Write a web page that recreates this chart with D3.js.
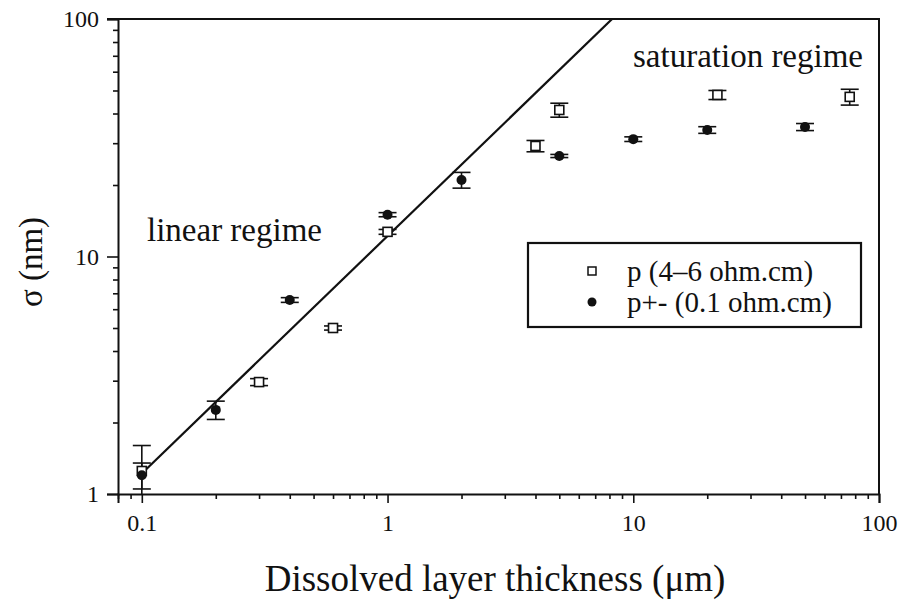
<!DOCTYPE html>
<html>
<head>
<meta charset="utf-8">
<script src="https://cdn.jsdelivr.net/npm/d3@7"></script>
<style>
  html, body { margin: 0; padding: 0; background: #fff; }
  svg text { font-family: "Liberation Serif", "DejaVu Serif", serif; fill: #111; }
</style>
</head>
<body>
<svg id="chart" width="904" height="600"></svg>
<script>
// Roughness sigma vs dissolved layer thickness, two substrate dopings
const pThickness   = [0.1, 0.3, 0.6, 1.0, 4.0, 5.0, 22, 76];
const pSigma       = [1.25, 2.96, 5.0, 12.7, 29.2, 41.4, 47.9, 47.0];
const pErr         = [0.35, 0.1, 0.1, 0.3, 1.6, 2.8, 2.1, 3.6];

const ppThickness  = [0.1, 0.2, 0.4, 1.0, 2.0, 5.0, 10, 20, 50];
const ppSigma      = [1.2, 2.26, 6.56, 15.0, 21.0, 26.5, 31.2, 34.1, 35.1];
const ppErr        = [0.15, 0.2, 0.15, 0.3, 1.6, 0.4, 0.7, 1.1, 1.2];

// linear fit sigma ~ thickness (end points)
const fitThickness = [0.1, 8.2];
const fitSigma     = [1.22, 100];

const xMajorTicks = [0.1, 1, 10, 100];
const xTickLabels = ["0.1", "1", "10", "100"];
const yMajorTicks = [1, 10, 100];
const yTickLabels = ["1", "10", "100"];

const legendLabels = ["p (4\u20136 ohm.cm)", "p+- (0.1 ohm.cm)"];

const svg = d3.select("#chart");
const L = 118, R = 879, T = 19, B = 494;

const x = d3.scaleLog().domain([0.08, 100]).range([L, R]);
const y = d3.scaleLog().domain([1, 100]).range([B, T]);

// minor tick positions
const xMinor = [];
[0.01, 0.1, 1, 10].forEach(d => { for (let k = 2; k <= 9; k++) { const v = d * k; if (v >= 0.08 && v < 100) xMinor.push(v); } });
const yMinor = [];
[1, 10].forEach(d => { for (let k = 2; k <= 9; k++) yMinor.push(d * k); });

// x axis
const gx = svg.append("g").attr("transform", `translate(0,${B})`);
gx.call(d3.axisBottom(x).tickValues(xMinor).tickSize(5).tickFormat(""));
gx.call(g => g.select(".domain").remove());
const gxMaj = svg.append("g").attr("transform", `translate(0,${B})`);
gxMaj.call(d3.axisBottom(x).tickValues(xMajorTicks).tickSize(9).tickPadding(11)
  .tickFormat((d, i) => xTickLabels[i]));
gxMaj.selectAll("text").attr("font-size", 24).style("font-family", "Liberation Serif").attr("fill", "#111");

// y axis
const gy = svg.append("g").attr("transform", `translate(${L},0)`);
gy.call(d3.axisLeft(y).tickValues(yMinor).tickSize(5).tickFormat(""));
gy.call(g => g.select(".domain").remove());
const gyMaj = svg.append("g").attr("transform", `translate(${L},0)`);
gyMaj.call(d3.axisLeft(y).tickValues(yMajorTicks).tickSize(11).tickPadding(8)
  .tickFormat((d, i) => yTickLabels[i]));
gyMaj.selectAll("text").attr("font-size", 24).style("font-family", "Liberation Serif").attr("fill", "#111");

svg.selectAll(".domain").attr("stroke", "#111").attr("stroke-width", 2);
svg.selectAll(".tick line").attr("stroke", "#111").attr("stroke-width", 1.6);

// frame: top and right edges
svg.append("path")
  .attr("d", `M${L - 11},${T}H${R}V${B}`)
  .attr("fill", "none").attr("stroke", "#111").attr("stroke-width", 2);

// clip region for the fit line
svg.append("clipPath").attr("id", "plotClip")
  .append("rect").attr("x", L).attr("y", T).attr("width", R - L).attr("height", B - T);

const fitPts = fitThickness.map((t, i) => [x(t), y(fitSigma[i])]);
svg.append("path")
  .attr("clip-path", "url(#plotClip)")
  .attr("d", d3.line()(fitPts))
  .attr("fill", "none").attr("stroke", "#111").attr("stroke-width", 2.2);

// error bars
function errorBars(ts, ss, es) {
  const g = svg.append("g").attr("stroke", "#111").attr("stroke-width", 1.6).attr("fill", "none");
  ts.forEach((t, i) => {
    const cx = x(t);
    const yTop = y(ss[i] + es[i]);
    const yBot = y(Math.max(ss[i] - es[i], 1));
    g.append("line").attr("x1", cx).attr("x2", cx).attr("y1", yTop).attr("y2", yBot);
    g.append("line").attr("x1", cx - 9).attr("x2", cx + 9).attr("y1", yTop).attr("y2", yTop);
    if (ss[i] - es[i] > 1)
      g.append("line").attr("x1", cx - 9).attr("x2", cx + 9).attr("y1", yBot).attr("y2", yBot);
  });
}
errorBars(pThickness, pSigma, pErr);
errorBars(ppThickness, ppSigma, ppErr);

// open squares: p
svg.append("g").selectAll("rect").data(pThickness).join("rect")
  .attr("x", (d) => x(d) - 4.5)
  .attr("y", (d, i) => y(pSigma[i]) - 4.5)
  .attr("width", 9).attr("height", 9)
  .attr("fill", "#fff").attr("stroke", "#111").attr("stroke-width", 1.6);

// filled circles: p+
svg.append("g").selectAll("circle").data(ppThickness).join("circle")
  .attr("cx", (d) => x(d))
  .attr("cy", (d, i) => y(ppSigma[i]))
  .attr("r", 5)
  .attr("fill", "#111");

// annotations
svg.append("text").attr("x", 147).attr("y", 241).attr("font-size", 33).text("linear regime");
svg.append("text").attr("x", 633).attr("y", 67).attr("font-size", 33).text("saturation regime");

// legend
const lg = svg.append("g");
lg.append("rect").attr("x", 528).attr("y", 243).attr("width", 333).attr("height", 84)
  .attr("fill", "#fff").attr("stroke", "#111").attr("stroke-width", 2.2);
lg.append("rect").attr("x", 588).attr("y", 267).attr("width", 8).attr("height", 8)
  .attr("fill", "#fff").attr("stroke", "#111").attr("stroke-width", 1.5);
lg.append("circle").attr("cx", 592).attr("cy", 302).attr("r", 4.5).attr("fill", "#111");
lg.selectAll("text").data(legendLabels).join("text")
  .attr("x", 627).attr("y", (d, i) => 281 + i * 31)
  .attr("font-size", 29).text(d => d);

// axis titles
svg.append("text").attr("x", 495).attr("y", 591).attr("text-anchor", "middle")
  .attr("font-size", 37).text("Dissolved layer thickness (\u03bcm)");
svg.append("text").attr("transform", "translate(42,262) rotate(-90)").attr("text-anchor", "middle")
  .attr("font-size", 33).text("\u03c3 (nm)");
</script>
</body>
</html>
